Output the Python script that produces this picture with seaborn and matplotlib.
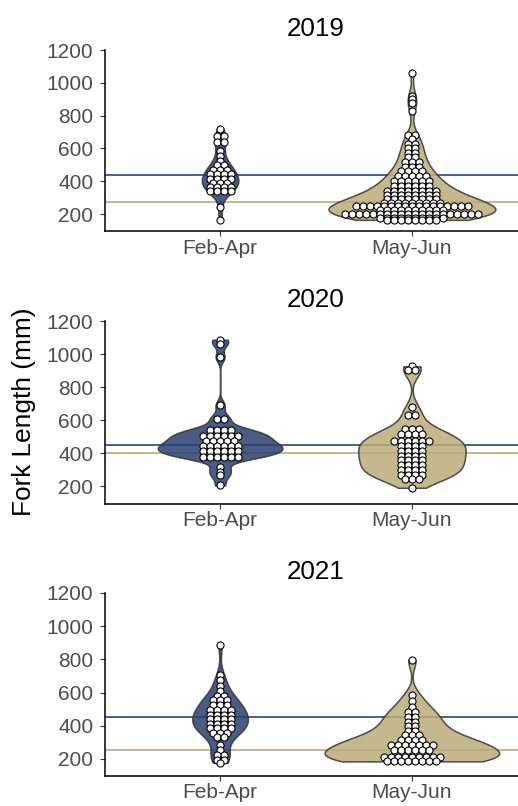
import numpy as np
import pandas as pd
import matplotlib
matplotlib.use("Agg")
import matplotlib.pyplot as plt
import seaborn as sns

sns.set_theme(style="white")
plt.rcParams["font.family"] = ["Liberation Sans", "DejaVu Sans"]

periods = ["Feb-Apr", "May-Jun"]
years = ["2019", "2020", "2021"]

# Fork length bins (mm) and the number of fish in each bin
feb19_mm = [720, 675, 638, 585, 555, 525, 500, 470, 445, 415, 390, 365, 340, 245, 165]
feb19_n = [1, 2, 2, 1, 1, 1, 2, 3, 4, 4, 3, 4, 4, 1, 1]
may19_mm = [1060, 920, 900, 880, 830, 680, 660, 630, 600, 575, 550, 520, 490, 460,
            430, 400, 370, 340, 315, 290, 270, 250, 225, 200, 178, 165]
may19_n = [1, 1, 1, 1, 1, 2, 1, 2, 2, 2, 2, 3, 3, 4, 5, 6, 6, 8, 8, 8, 9, 17, 10,
           20, 10, 8]

feb20_mm = [1087, 1063, 982, 690, 610, 543, 507, 472, 442, 414, 381, 317, 287, 267, 206]
feb20_n = [1, 1, 1, 1, 2, 4, 6, 5, 6, 6, 6, 1, 1, 1, 1]
may20_mm = [926, 906, 680, 630, 545, 515, 472, 442, 414, 383, 357, 327, 297, 267,
            247, 192]
may20_n = [1, 2, 1, 2, 3, 4, 6, 4, 4, 4, 4, 4, 4, 4, 3, 1]

feb21_mm = [885, 705, 675, 640, 612, 582, 555, 525, 495, 465, 440, 410, 385, 358,
            334, 285, 255, 222, 195, 178]
feb21_n = [1, 1, 1, 1, 1, 2, 3, 3, 4, 4, 4, 4, 4, 3, 2, 1, 1, 2, 2, 1]
may21_mm = [795, 585, 550, 515, 485, 455, 425, 398, 368, 344, 314, 282, 255, 210, 185]
may21_n = [1, 1, 1, 1, 2, 2, 2, 2, 2, 3, 4, 7, 6, 9, 8]

# Reference lengths drawn as horizontal lines in each year
feb_ref = [441, 448, 452]
may_ref = [272, 400, 252]

groups = {
    "2019": ((feb19_mm, feb19_n), (may19_mm, may19_n)),
    "2020": ((feb20_mm, feb20_n), (may20_mm, may20_n)),
    "2021": ((feb21_mm, feb21_n), (may21_mm, may21_n)),
}

fill_cols = {"Feb-Apr": "#2A3F70", "May-Jun": "#BAAC78"}
line_cols = ["#2E4680", "#BAAC78"]
# maximum violin width (fraction of the category slot) per year and period
violin_width = {"2019": [0.19, 0.87], "2020": [0.65, 0.56], "2021": [0.29, 0.91]}


def nrd0(kde):
    """Silverman's rule of thumb (R's bw.nrd0), returned as a scipy factor."""
    x = np.asarray(kde.dataset).ravel()
    sd = x.std(ddof=1)
    iqr = np.subtract(*np.percentile(x, [75, 25]))
    lo = min(sd, iqr / 1.34) if iqr > 0 else sd
    return 0.9 * lo * len(x) ** -0.2 / sd


def centred_stack(n, step):
    """Horizontal offsets for n dots stacked side by side around 0."""
    return (np.arange(n) - (n - 1) / 2.0) * step


fig = plt.figure(figsize=(5.18, 8.06), dpi=100)
W, H = 518.0, 806.0
left, right = 105.0, 527.0
xlim = (-0.6, 1.6)
panel_px = [(50.0, 231.0), (321.0, 503.5), (593.0, 776.0)]

dot_px = 7.0
dot_step = dot_px / ((right - left) / (xlim[1] - xlim[0]))

for i, yr in enumerate(years):
    top, bot = panel_px[i]
    ax = fig.add_axes([left / W, 1 - bot / H, (right - left) / W, (bot - top) / H])

    rows = []
    for pos, (period, (mm, n)) in enumerate(zip(periods, groups[yr])):
        for value, count in zip(mm, n):
            rows.append(pd.DataFrame({
                "period": period,
                "pos": pos,
                "length": [value] * count,
                "dot_x": pos + centred_stack(count, dot_step),
            }))
    df = pd.concat(rows, ignore_index=True)

    ax.axhline(feb_ref[i], color=line_cols[0], lw=1.2, zorder=0.5)
    ax.axhline(may_ref[i], color=line_cols[1], lw=1.2, zorder=0.5)

    for j, period in enumerate(periods):
        sub = df[df["period"] == period]
        sns.violinplot(
            data=sub, x="pos", y="length", orient="x", native_scale=True,
            color=fill_cols[period], inner=None, cut=0, bw_method=nrd0,
            density_norm="width", width=violin_width[yr][j], gridsize=300,
            linewidth=1.1, linecolor="#333333", saturation=1, alpha=0.85, ax=ax,
        )
    sns.scatterplot(
        data=df, x="dot_x", y="length", color="white", edgecolor="black",
        linewidth=0.8, s=26, legend=False, zorder=3, ax=ax,
    )

    ax.set_xlim(*xlim)
    ax.set_ylim(97, 1200)
    ax.set_xticks([0, 1])
    ax.set_xticklabels(periods)
    ax.set_yticks([200, 400, 600, 800, 1000, 1200])
    ax.set_xlabel("")
    ax.set_ylabel("")
    ax.set_title(yr, fontsize=18.7, color="black", pad=10)
    for s in ["top", "right"]:
        ax.spines[s].set_visible(False)
    for s in ["left", "bottom"]:
        ax.spines[s].set_color("black")
        ax.spines[s].set_linewidth(1.1)
    ax.tick_params(axis="both", which="major", labelsize=15, labelcolor="#4D4D4D",
                   color="#333333", length=3.4, width=0.8, left=True, bottom=True)
    ax.tick_params(axis="y", pad=5)
    ax.tick_params(axis="x", pad=2)

fig.text(24 / W, 1 - 412 / H, "Fork Length (mm)", rotation=90, ha="center",
         va="center", fontsize=18.9, color="black")

fig.savefig("out.png", dpi=100, facecolor="white")
